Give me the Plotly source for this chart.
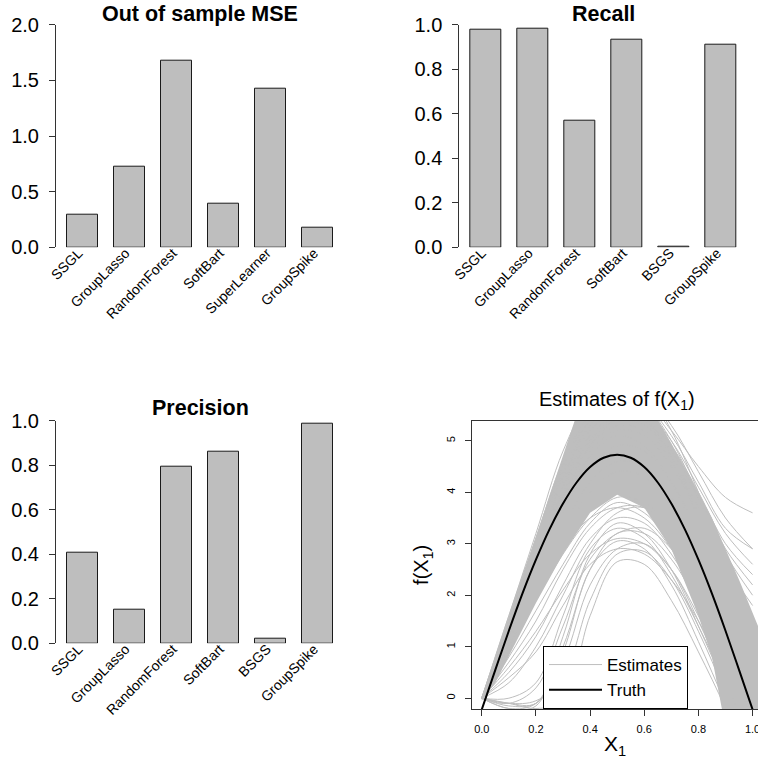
import plotly.graph_objects as go

# ---------------- data ----------------
mse_methods = ["SSGL", "GroupLasso", "RandomForest", "SoftBart", "SuperLearner", "GroupSpike"]
mse_values = [0.293, 0.728, 1.68, 0.395, 1.425, 0.176]

sel_methods = ["SSGL", "GroupLasso", "RandomForest", "SoftBart", "BSGS", "GroupSpike"]
recall_values = [0.977, 0.982, 0.567, 0.931, 0.004, 0.909]
precision_values = [0.409, 0.151, 0.793, 0.861, 0.022, 0.988]

mse_ticks = [0.0, 0.5, 1.0, 1.5, 2.0]
mse_ticktext = ["0.0", "0.5", "1.0", "1.5", "2.0"]
prop_ticks = [0.0, 0.2, 0.4, 0.6, 0.8, 1.0]
prop_ticktext = ["0.0", "0.2", "0.4", "0.6", "0.8", "1.0"]

# truth curve f(X1)
truth_x = [0.0, 0.05, 0.1, 0.15, 0.2, 0.25, 0.3, 0.35, 0.4, 0.45, 0.5,
           0.55, 0.6, 0.65, 0.7, 0.75, 0.8, 0.85, 0.9, 0.95, 1.0]
truth_y = [-0.22, 0.55, 1.31, 2.03, 2.69, 3.28, 3.78, 4.19, 4.49, 4.67, 4.73,
           4.67, 4.49, 4.19, 3.78, 3.28, 2.69, 2.03, 1.31, 0.55, -0.22]

# dense core of the estimates (outline of the solid grey region)
core_x = [0.0, 0.1, 0.2, 0.3, 0.35, 0.64, 0.7, 0.8, 0.85, 0.9, 0.95, 1.02,
          1.02, 0.89, 0.85, 0.8, 0.7, 0.6, 0.5, 0.4, 0.3, 0.2, 0.1, 0.05, 0.0]
core_y = [0.0, 1.56, 3.12, 4.68, 5.5, 5.5, 4.95, 4.0, 3.5, 2.9, 2.3, 1.4,
          -0.3, -0.3, 0.8, 1.6, 2.9, 3.7, 3.95, 3.6, 2.8, 1.85, 0.8, 0.3, -0.05]

# individual estimate curves, read at these X1 values
est_x = [0.0, 0.1, 0.2, 0.3, 0.4, 0.5, 0.6, 0.7, 0.8, 0.9, 1.0]
est_01 = [0.0, -0.1, -0.2, -0.05, 1.6, 2.65, 2.6, 1.9, 0.9, -0.2, -1.5]
est_02 = [0.0, -0.1, -0.1, 0.9, 2.5, 3.05, 2.9, 2.2, 1.1, -0.1, -1.3]
est_03 = [0.0, -0.2, -0.15, 1.2, 2.8, 3.4, 3.2, 2.5, 1.4, 0.2, -1.0]
est_04 = [0.0, 0.0, 0.3, 1.6, 2.9, 3.3, 3.1, 2.4, 1.4, 0.3, -0.9]
est_05 = [0.0, 0.6, 1.3, 2.1, 2.8, 3.1, 3.0, 2.5, 1.6, 0.5, -0.7]
est_06 = [0.0, 0.5, 1.2, 2.2, 3.1, 3.5, 3.4, 2.8, 1.9, 0.8, -0.4]
est_07 = [0.0, 0.8, 1.7, 2.6, 3.4, 3.8, 3.6, 3.0, 2.0, 0.9, -0.3]
est_08 = [0.0, -0.15, -0.1, 0.7, 2.2, 2.9, 3.0, 2.5, 1.5, 0.3, -1.0]
est_09 = [0.0, 0.3, 1.0, 2.0, 3.0, 3.6, 3.7, 3.3, 2.4, 1.2, -0.1]
est_10 = [0.0, 0.9, 1.9, 2.8, 3.5, 3.9, 3.8, 3.3, 2.4, 1.2, 0.0]
est_11 = [0.0, 0.4, 0.9, 1.8, 2.6, 2.9, 2.8, 2.3, 1.5, 0.5, -0.6]
est_12 = [0.0, -0.1, 0.2, 1.4, 2.7, 3.2, 3.3, 2.9, 2.1, 1.0, -0.2]
est_13 = [0.0, 1.0, 2.0, 2.9, 3.5, 3.7, 3.5, 2.9, 2.0, 0.9, -0.3]
est_14 = [0.0, -0.2, -0.1, 1.0, 2.5, 3.2, 3.2, 2.7, 1.8, 0.6, -0.6]
est_15 = [0.0, 1.55, 3.1, 4.6, 5.5, 5.9, 5.8, 5.2, 4.5, 3.9, 3.6]
est_16 = [0.0, 1.5, 3.0, 4.4, 5.3, 5.7, 5.6, 5.0, 4.1, 3.2, 2.6]
est_17 = [0.0, 1.5, 3.0, 4.5, 5.4, 5.9, 5.9, 5.3, 4.4, 3.5, 2.9]
est_18 = [0.0, 1.4, 2.9, 4.2, 5.1, 5.5, 5.4, 4.8, 3.9, 2.9, 2.2]
est_19 = [0.0, 1.2, 2.6, 3.9, 4.8, 5.2, 5.1, 4.5, 3.6, 2.5, 1.6]
est_20 = [0.0, 1.3, 2.7, 4.0, 4.9, 5.3, 5.2, 4.6, 3.5, 2.2, 0.9]
est_21 = [0.0, 1.1, 2.3, 3.6, 4.5, 4.9, 4.8, 4.2, 3.2, 1.9, 0.5]
est_22 = [0.0, 1.6, 3.1, 4.5, 5.5, 5.9, 5.7, 5.0, 3.9, 2.6, 1.2]
est_23 = [0.0, 1.6, 3.2, 4.8, 5.8, 6.2, 6.0, 5.2, 4.0, 2.7, 1.3]
est_24 = [0.0, 1.0, 2.1, 3.3, 4.2, 4.6, 4.5, 3.9, 2.9, 1.6, 0.2]
est_25 = [0.0, 0.9, 2.0, 3.1, 4.0, 4.4, 4.3, 3.7, 2.6, 1.3, -0.2]
est_26 = [0.0, 1.5, 3.0, 4.3, 5.2, 5.6, 5.4, 4.7, 3.5, 2.0, 0.6]
est_27 = [0.0, 1.4, 2.8, 4.1, 5.0, 5.4, 5.3, 4.7, 3.7, 2.6, 1.8]
est_28 = [0.0, 1.2, 2.5, 3.8, 4.7, 5.1, 4.9, 4.2, 3.0, 1.6, 0.1]
est_29 = [0.0, 1.45, 2.9, 4.3, 5.3, 5.8, 5.7, 5.1, 4.2, 3.3, 2.9]
est_30 = [0.0, 1.35, 2.75, 4.1, 5.0, 5.5, 5.4, 4.9, 4.0, 3.0, 2.4]
est_31 = [0.0, 1.3, 2.6, 3.9, 4.9, 5.4, 5.3, 4.8, 3.9, 2.8, 2.0]
est_32 = [0.0, 0.7, 1.5, 2.5, 3.3, 3.7, 3.7, 3.2, 2.3, 1.0, -0.3]
est_33 = [0.0, -0.1, -0.05, 0.4, 1.9, 2.8, 2.85, 2.3, 1.3, 0.1, -1.2]
estimate_curves = [est_01, est_02, est_03, est_04, est_05, est_06, est_07,
                   est_08, est_09, est_10, est_11, est_12, est_13, est_14,
                   est_15, est_16, est_17, est_18, est_19, est_20, est_21,
                   est_22, est_23, est_24, est_25, est_26, est_27, est_28,
                   est_29, est_30, est_31, est_32, est_33]

f4_xticks = [0.0, 0.2, 0.4, 0.6, 0.8, 1.0]
f4_xticktext = ["0.0", "0.2", "0.4", "0.6", "0.8", "1.0"]
f4_yticks = [0, 1, 2, 3, 4, 5]

# ---------------- figure ----------------
W, H = 758, 763
FONT = "Liberation Sans, Arial, Helvetica, sans-serif"
GREY = "#BEBEBE"
AX = "#333333"
CAT_RANGE = [-0.557, 5.557]
LABEL_SHIFT = 0.08


def px_x(p):
    return p / W


def px_y(p):
    return 1 - p / H


fig = go.Figure()

bar_style = dict(marker=dict(color=GREY, line=dict(color="#1a1a1a", width=1)),
                 width=1 / 1.5, showlegend=False, hoverinfo="x+y")

fig.add_trace(go.Bar(x=mse_methods, y=mse_values, xaxis="x", yaxis="y", **bar_style))
fig.add_trace(go.Bar(x=sel_methods, y=recall_values, xaxis="x2", yaxis="y2", **bar_style))
fig.add_trace(go.Bar(x=sel_methods, y=precision_values, xaxis="x3", yaxis="y3", **bar_style))

# panel 4
fig.add_trace(go.Scatter(x=core_x, y=core_y, fill="toself", fillcolor=GREY,
                         mode="lines", line=dict(width=0, color=GREY),
                         xaxis="x4", yaxis="y4", showlegend=False, hoverinfo="skip"))
for i, curve in enumerate(estimate_curves):
    fig.add_trace(go.Scatter(x=est_x, y=curve, mode="lines",
                             line=dict(color=GREY, width=1, shape="spline"),
                             xaxis="x4", yaxis="y4", name="Estimates",
                             legendgroup="est", showlegend=(i == 0)))
fig.add_trace(go.Scatter(x=truth_x, y=truth_y, mode="lines",
                         line=dict(color="black", width=2, shape="spline"),
                         xaxis="x4", yaxis="y4", name="Truth"))

bar_x_axis = dict(type="category", range=CAT_RANGE, showline=False,
                  ticks="", showticklabels=False, showgrid=False,
                  zeroline=False, automargin=False)


def label_axis(dom, anchor, over, names):
    # overlay axis carrying the rotated category labels (shifted like R's text())
    return dict(domain=dom, anchor=anchor, overlaying=over, type="linear",
                range=[CAT_RANGE[0] + LABEL_SHIFT, CAT_RANGE[1] + LABEL_SHIFT],
                tickvals=list(range(len(names))), ticktext=names,
                showline=False, ticks="", tickangle=-45, showgrid=False,
                zeroline=False, automargin=False, ticklabeloverflow="allow",
                tickfont=dict(size=14, color="black", family=FONT),
                ticklabelstandoff=-6)


def bar_y_axis(rng, tv, tt):
    return dict(range=rng, tickvals=tv, ticktext=tt, showline=True,
                linecolor=AX, linewidth=1, ticks="outside", ticklen=6,
                tickcolor=AX, showgrid=False, zeroline=False, automargin=False,
                tickfont=dict(size=20, color="black", family=FONT),
                ticklabelstandoff=6)


dom_left = [px_x(56), px_x(344)]
dom_right = [px_x(459.3), px_x(747)]

fig.update_layout(
    width=W, height=H, autosize=False,
    margin=dict(l=0, r=0, t=0, b=0, pad=0),
    paper_bgcolor="white", plot_bgcolor="white",
    font=dict(family=FONT, color="black"),
    bargap=0,
    xaxis=dict(domain=dom_left, anchor="y", **bar_x_axis),
    yaxis=dict(domain=[px_y(247.3), px_y(24.7)], anchor="x",
               **bar_y_axis([0, 2.0], mse_ticks, mse_ticktext)),
    xaxis2=dict(domain=dom_right, anchor="y2", **bar_x_axis),
    yaxis2=dict(domain=[px_y(247.3), px_y(24.7)], anchor="x2",
                **bar_y_axis([0, 1.0], prop_ticks, prop_ticktext)),
    xaxis3=dict(domain=dom_left, anchor="y3", **bar_x_axis),
    yaxis3=dict(domain=[px_y(643.3), px_y(420.7)], anchor="x3",
                **bar_y_axis([0, 1.0], prop_ticks, prop_ticktext)),
    xaxis5=label_axis(dom_left, "y", "x", mse_methods),
    xaxis6=label_axis(dom_right, "y2", "x2", sel_methods),
    xaxis7=label_axis(dom_left, "y3", "x3", sel_methods),
    xaxis4=dict(domain=[px_x(472.3), 1.0], anchor="y4", range=[-0.035, 1.02],
                tickvals=f4_xticks, ticktext=f4_xticktext,
                showline=True, mirror=True, linecolor=AX, linewidth=1,
                ticks="outside", ticklen=6, tickcolor=AX, showgrid=False,
                zeroline=False, automargin=False, ticklabeloverflow="allow",
                tickfont=dict(size=11, color="black"),
                ticklabelstandoff=4,
                title=dict(text="X<sub>1</sub>", font=dict(size=21), standoff=2)),
    yaxis4=dict(domain=[px_y(709), px_y(420.7)], anchor="x4", range=[-0.21, 5.39],
                tickvals=f4_yticks, showline=True, mirror=False, linecolor=AX,
                linewidth=1, ticks="outside", ticklen=6, tickcolor=AX,
                showgrid=False, zeroline=False, tickangle=-90, automargin=False,
                tickfont=dict(size=11, color="black"), ticklabelstandoff=6,
                title=dict(text="f(X<sub>1</sub>)", font=dict(size=20), standoff=10)),
    legend=dict(x=px_x(543), y=px_y(709), xanchor="left", yanchor="bottom",
                bgcolor="white", bordercolor="black", borderwidth=1,
                font=dict(size=17, color="black"), itemwidth=53,
                tracegroupgap=0),
    showlegend=True,
)

# invisible anchor traces so the label axes are drawn
for xa, ya in (("x5", "y"), ("x6", "y2"), ("x7", "y3")):
    fig.add_trace(go.Scatter(x=[], y=[], xaxis=xa, yaxis=ya, showlegend=False,
                             hoverinfo="skip", mode="markers"))

titles = [
    ("<b>Out of sample MSE</b>", 200, 14, 21.5),
    ("<b>Recall</b>", 603, 14, 21.5),
    ("<b>Precision</b>", 200, 408, 21.5),
    ("Estimates of f(X<sub>1</sub>)", 617, 400, 20),
]
for txt, cx, cy, fs in titles:
    fig.add_annotation(text=txt, x=px_x(cx), y=px_y(cy), xref="paper", yref="paper",
                       xanchor="center", yanchor="middle", showarrow=False,
                       font=dict(size=fs, color="black", family=FONT))

fig.write_html("out.html", config={"displayModeBar": False},
               post_script="document.body.style.margin='0';document.body.style.padding='0';")
